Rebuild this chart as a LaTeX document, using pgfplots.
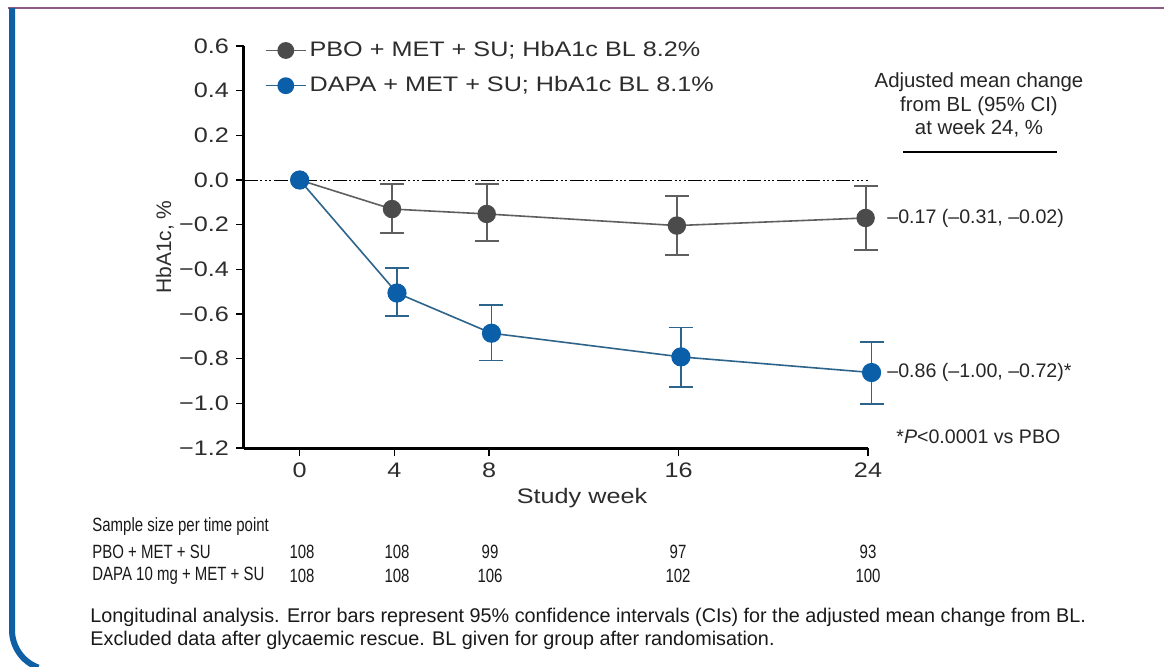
\documentclass[border=0pt]{standalone}
\usepackage{fontspec}
\setmainfont{Liberation Sans}[FakeStretch=1.2]
\newfontfamily\plainfont{Liberation Sans}
\newfontfamily\narrowfont{Liberation Sans}[FakeStretch=0.78]
\usepackage{pgfplots}
\pgfplotsset{compat=1.18}
\definecolor{pbo}{RGB}{75,75,75}
\definecolor{pboline}{RGB}{95,95,95}
\definecolor{dapa}{RGB}{10,95,168}
\definecolor{dapaline}{RGB}{45,100,140}
\definecolor{tickgray}{RGB}{45,45,45}
\definecolor{framepurple}{RGB}{140,90,130}
\definecolor{frameblue}{RGB}{15,95,165}
\begin{document}
\begin{tikzpicture}
\path[use as bounding box, fill=white] (0,0) rectangle (582pt,-333pt);
% frame
\draw[framepurple, line width=0.9pt] (4pt,-4pt) -- (582pt,-4pt);
\draw[frameblue, line width=3pt] (6pt,-4pt) -- (6pt,-315pt) arc[start angle=180, end angle=250, radius=20pt];
\begin{axis}[
  at={(122pt,-224pt)}, anchor=south west,
  scale only axis, width=312pt, height=201pt,
  xmin=-2.35, xmax=24, ymin=-1.2, ymax=0.6,
  axis lines=left, axis line style={-, line width=1.5pt, black},
  tick align=outside, major tick length=4pt,
  major tick style={line width=0.8pt, black},
  xtick={0,4,8,16,24}, xticklabels={0,4,8,16,24},
  ytick={-1.2,-1.0,-0.8,-0.6,-0.4,-0.2,0,0.2,0.4,0.6},
  yticklabels={−1.2,−1.0,−0.8,−0.6,−0.4,−0.2,0.0,0.2,0.4,0.6},
  /pgf/number format/assume math mode=true,
  ticklabel style={font=\fontsize{10.5}{12}\selectfont, text=tickgray},
  xlabel={Study week},
  xlabel style={at={(axis description cs:0.5417,-0.124)}, anchor=center, font=\fontsize{10.5}{12}\selectfont, text=tickgray},
  ylabel={HbA1c, \%},
  ylabel style={at={(axis description cs:-0.127,0.5)}, anchor=center, font=\plainfont\fontsize{10.5}{12}\selectfont, text=tickgray},
  clip=false,
  legend style={at={(axis description cs:0.033,1.02)}, anchor=north west, draw=none, fill=none,
    font=\fontsize{10.5}{12}\selectfont, text=tickgray, row sep=5.5pt, inner sep=0pt,
    nodes={inner sep=1.5pt}},
  legend cell align=left,
  legend image code/.code={\draw[mark repeat=2,mark phase=2, mark size=3.8pt] plot coordinates {(0pt,0pt) (10pt,0pt) (20pt,0pt)};},
]
% zero reference line
\addplot[forget plot, black, line width=0.5pt, dash pattern=on 7pt off 1.2pt on 1pt off 1.2pt on 1pt off 1.2pt on 1pt off 1.2pt] coordinates {(-2.35,0) (24,0)};
% PBO error bars
\addplot[forget plot, draw=none, mark=none,
  error bars/.cd, y dir=both, y explicit,
  error bar style={draw=pboline, line width=0.9pt},
  error mark options={rotate=90, mark size=6pt, draw=pboline, line width=0.9pt}]
  coordinates {
  (3.9,-0.130) += (0,0.112) -= (0,0.106)
  (7.9,-0.152) += (0,0.134) -= (0,0.120)
  (15.93,-0.204) += (0,0.134) -= (0,0.132)
  (23.9,-0.170) += (0,0.143) -= (0,0.143)
  };
% DAPA error bars
\addplot[forget plot, draw=none, mark=none,
  error bars/.cd, y dir=both, y explicit,
  error bar style={draw=dapaline, line width=0.9pt},
  error mark options={rotate=90, mark size=6pt, draw=dapaline, line width=0.9pt}]
  coordinates {
  (4.11,-0.506) += (0,0.111) -= (0,0.104)
  (8.1,-0.686) += (0,0.126) -= (0,0.122)
  (16.1,-0.792) += (0,0.132) -= (0,0.134)
  (24.15,-0.862) += (0,0.137) -= (0,0.142)
  };
\addplot[pboline, line width=0.8pt, mark=*, mark size=4.2pt, mark options={fill=pbo, draw=pbo}]
  coordinates {(0,0) (3.9,-0.130) (7.9,-0.152) (15.93,-0.204) (23.9,-0.170)};
\addlegendentry{PBO + MET + SU; HbA1c BL 8.2\%}
\addplot[dapaline, line width=0.8pt, mark=*, mark size=4.4pt, mark options={fill=dapa, draw=dapa}]
  coordinates {(0,0) (4.11,-0.506) (8.1,-0.686) (16.1,-0.792) (24.15,-0.862)};
\addlegendentry{DAPA + MET + SU; HbA1c BL 8.1\%}
\end{axis}
\begin{scope}[x=0.5pt, y=-0.5pt]
\node[align=center, font=\plainfont\fontsize{10.2}{11.6}\selectfont, text=black!85] at (979,105)
  {Adjusted mean change\\from BL (95\% CI)\\at week 24, \%};
\draw[black, line width=0.6pt] (903,152) -- (1057,152);
\node[anchor=west, font=\plainfont\fontsize{9.8}{11}\selectfont, text=black!85, inner sep=0pt] at (887,218) {–0.17 (–0.31, –0.02)};
\node[anchor=west, font=\plainfont\fontsize{9.8}{11}\selectfont, text=black!85, inner sep=0pt] at (887,372) {–0.86 (–1.00, –0.72)*};
\node[anchor=west, font=\plainfont\fontsize{9.8}{11}\selectfont, text=black!85, inner sep=0pt] at (896,437) {*\textit{P}<0.0001 vs PBO};
% sample size table
\begin{scope}[every node/.style={font=\narrowfont\fontsize{9.6}{10}\selectfont, text=black!90, inner sep=0pt}]
\node[anchor=west] at (92,527) {Sample size per time point};
\node[anchor=west] at (92,552) {PBO + MET + SU};
\node[anchor=west] at (92,576) {DAPA 10 mg + MET + SU};
\node at (302,552) {108}; \node at (397,552) {108}; \node at (490,552) {99}; \node at (678,552) {97}; \node at (868,552) {93};
\node at (302,576) {108}; \node at (397,576) {108}; \node at (490,576) {106}; \node at (678,576) {102}; \node at (868,576) {100};
\end{scope}
\begin{scope}[every node/.style={font=\plainfont\fontsize{9.9}{10}\selectfont, text=black!90, inner sep=0pt, anchor=west}]
\node at (90,617) {Longitudinal analysis. Error bars represent 95\% confidence intervals (CIs) for the adjusted mean change from BL.};
\node at (90,640) {Excluded data after glycaemic rescue. BL given for group after randomisation.};
\end{scope}
\end{scope}
\end{tikzpicture}
\end{document}
